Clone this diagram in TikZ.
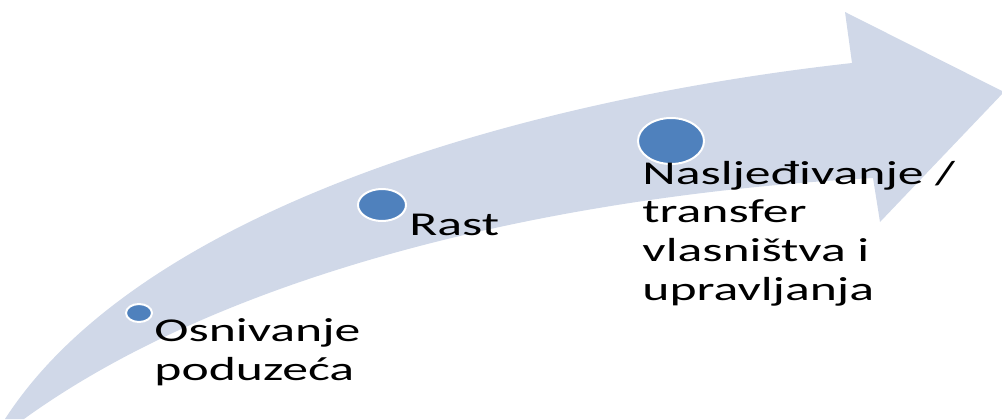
\documentclass[tikz,border=0pt]{standalone}
\usepackage{fontspec}
\setmainfont{Carlito}
\usetikzlibrary{shapes.geometric}
\definecolor{bandfill}{HTML}{D0D8E8}
\definecolor{dotblue}{HTML}{4F81BD}
\tikzset{
    stage/.style={ellipse, fill=dotblue, draw=white, line width=1.5pt, inner sep=0pt},
    stagetext/.style={anchor=base west, align=left, inner sep=0pt, xscale=1.55,
        font=\fontsize{25}{29}\selectfont}
}
\begin{document}
\begin{tikzpicture}[x=0.75pt, y=0.75pt]
        \useasboundingbox (0,0) rectangle (1002,419);
        \clip (0,0) rectangle (1002,419);

        % Curved band with the arrow head (pixel coordinates, y upwards)
        \fill[bandfill] (5,0) .. controls (140,209) and (520,319) .. (852,356)
            -- (845,407) -- (1004,327) -- (880,197) -- (873,241)
            .. controls (560,224) and (230,149) .. (24,0) -- cycle;

        % Stages along the band: name/x/y/width/height
        \foreach \n/\x/\y/\w/\h in {c1/139/106/26/18, c2/382/214/48/32, c3/671/278/66/46} {
            \node[stage, minimum width=\w*0.75pt, minimum height=\h*0.75pt] (\n) at (\x,\y) {};
        }

        % Labels (base anchor sits on the last line)
        \node[stagetext] (t1) at (154,39) {Osnivanje\\poduzeća};
        \node[stagetext] (t2) at (409,184) {Rast};
        \node[stagetext] (t3) at (642,119) {Nasljeđivanje /\\transfer\\vlasništva i\\upravljanja};
    \end{tikzpicture}
\end{document}
